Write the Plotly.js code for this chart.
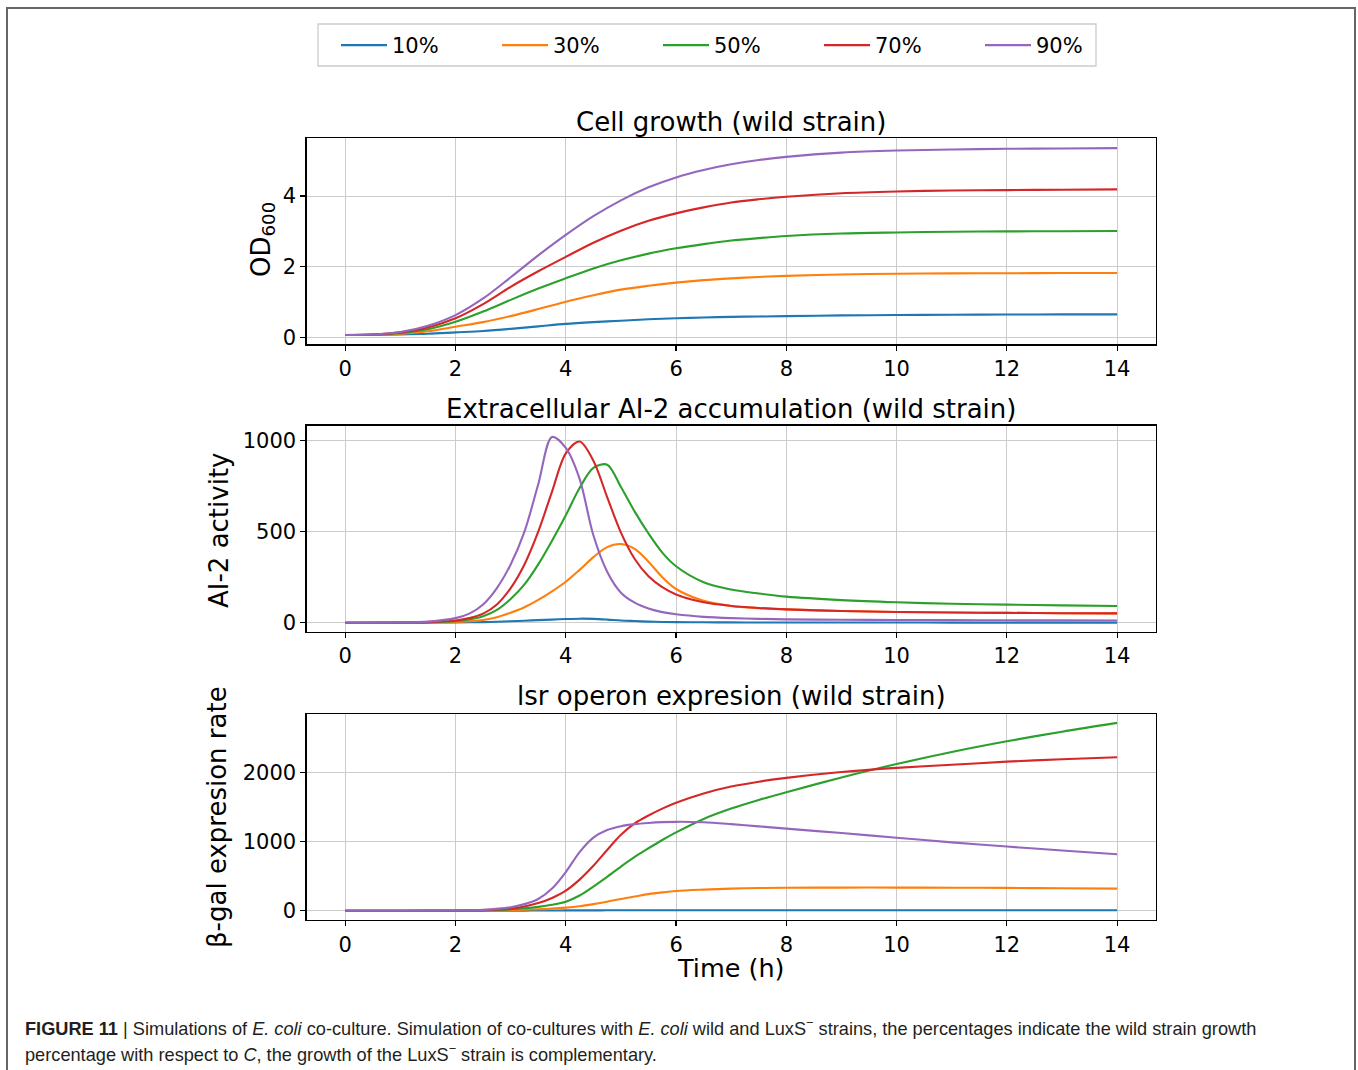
<!DOCTYPE html>
<html>
<head>
<meta charset="utf-8">
<script src="https://cdn.plot.ly/plotly-3.0.1.min.js"></script>
<style>
  html, body { margin: 0; padding: 0; background: #ffffff; }
  #chart { width: 1358px; height: 1070px; }
</style>
</head>
<body>
<div id="chart"></div>
<script>
// ---------------- DATA ----------------
const seriesNames = ["10%", "30%", "50%", "70%", "90%"];
const seriesColors = ["#1f77b4", "#ff7f0e", "#2ca02c", "#d62728", "#9467bd"];

const panelTitles = [
  "Cell growth (wild strain)",
  "Extracellular AI-2 accumulation (wild strain)",
  "lsr operon expresion (wild strain)"
];
const yTitles = ["OD<sub>600</sub>", "AI-2 activity", "β-gal expresion rate"];
const xTitle = "Time (h)";
const xTickVals = [0, 2, 4, 6, 8, 10, 12, 14];
const yTickVals1 = [0, 2, 4];
const yTickVals2 = [0, 500, 1000];
const yTickVals3 = [0, 1000, 2000];

// Panel 1: cell growth (OD600)
const tGrowth = [0, 0.5, 1, 1.5, 2, 2.5, 3, 3.5, 4, 4.5, 5, 5.5, 6, 6.5, 7, 7.5, 8, 9, 10, 11, 12, 13, 14];
const od10 = [0.066, 0.07, 0.08, 0.10, 0.14, 0.18, 0.24, 0.31, 0.38, 0.43, 0.47, 0.51, 0.54, 0.56, 0.58, 0.59, 0.60, 0.62, 0.63, 0.64, 0.645, 0.65, 0.65];
const od30 = [0.066, 0.072, 0.10, 0.17, 0.30, 0.43, 0.60, 0.80, 1.01, 1.19, 1.35, 1.46, 1.55, 1.62, 1.67, 1.71, 1.74, 1.78, 1.80, 1.81, 1.815, 1.82, 1.82];
const od50 = [0.066, 0.075, 0.12, 0.23, 0.44, 0.73, 1.06, 1.38, 1.67, 1.95, 2.18, 2.37, 2.52, 2.64, 2.74, 2.81, 2.87, 2.94, 2.97, 2.99, 3.00, 3.005, 3.01];
const od70 = [0.066, 0.08, 0.14, 0.28, 0.54, 0.94, 1.43, 1.87, 2.28, 2.68, 3.02, 3.30, 3.51, 3.68, 3.82, 3.91, 3.98, 4.08, 4.13, 4.16, 4.17, 4.18, 4.19];
const od90 = [0.066, 0.08, 0.15, 0.33, 0.63, 1.10, 1.70, 2.32, 2.90, 3.43, 3.88, 4.25, 4.53, 4.74, 4.90, 5.02, 5.11, 5.23, 5.29, 5.32, 5.34, 5.35, 5.36];

// Panel 2: extracellular AI-2 activity
const tAI2 = [0, 1, 1.5, 2, 2.25, 2.5, 2.75, 3, 3.25, 3.5, 3.75, 4, 4.25, 4.5, 4.75, 5, 5.25, 5.5, 5.75, 6, 6.5, 7, 7.5, 8, 9, 10, 11, 12, 13, 14];
const ai10 = [0, 0, 0.5, 1, 2, 3, 5, 8, 11, 14, 17, 20, 22, 21, 17, 12, 9, 6, 4, 3, 2, 1.5, 1.2, 1, 0.8, 0.7, 0.6, 0.5, 0.5, 0.5];
const ai30 = [0, 0, 1, 4, 8, 15, 30, 55, 85, 125, 172, 225, 290, 360, 415, 432, 405, 335, 250, 185, 120, 92, 80, 73, 64, 59, 56, 54, 52, 51];
const ai50 = [0, 0.3, 2, 8, 18, 35, 70, 130, 210, 320, 450, 590, 740, 850, 868, 745, 610, 490, 385, 310, 222, 182, 160, 143, 124, 112, 104, 99, 95, 92];
const ai70 = [0, 0.5, 3, 12, 25, 50, 100, 190, 320, 500, 720, 930, 995, 890, 690, 495, 350, 255, 195, 155, 112, 92, 81, 73, 64, 59, 56, 54, 52, 51];
const ai90 = [0, 1, 6, 25, 50, 100, 190, 320, 500, 760, 1020, 960, 790, 480, 280, 165, 110, 78, 58, 46, 32, 25, 21, 18, 16, 15, 14, 13, 12.5, 12];

// Panel 3: lsr operon expression (beta-gal expression rate)
const tLsr = [0, 1, 2, 2.5, 3, 3.25, 3.5, 3.75, 4, 4.25, 4.5, 4.75, 5, 5.25, 5.5, 5.75, 6, 6.5, 7, 7.5, 8, 9, 10, 11, 12, 13, 14];
const ls10 = [0, 0, 0, 0.5, 1, 1.5, 2, 3, 4, 4.5, 5, 5.5, 6, 6.3, 6.5, 6.7, 7, 7, 7, 7, 7, 7, 7, 7, 7, 7, 7];
const ls30 = [0, 0, 0, 2, 8, 13, 20, 30, 45, 65, 95, 130, 170, 205, 240, 265, 285, 305, 320, 328, 332, 335, 335, 333, 330, 325, 320];
const ls50 = [0, 0, 0, 5, 20, 35, 55, 85, 130, 220, 350, 490, 640, 780, 905, 1025, 1135, 1330, 1480, 1605, 1718, 1930, 2125, 2300, 2455, 2595, 2722];
const ls70 = [0, 0, 2, 8, 30, 60, 110, 185, 290, 450, 650, 880, 1100, 1265, 1380, 1480, 1565, 1700, 1800, 1870, 1925, 2010, 2070, 2115, 2160, 2195, 2225];
const ls90 = [0, 0, 2, 12, 50, 95, 170, 320, 560, 850, 1060, 1170, 1225, 1255, 1272, 1283, 1288, 1282, 1255, 1222, 1190, 1125, 1058, 990, 930, 872, 818];

const captionLine1 = "<b>FIGURE 11</b> | Simulations of <i>E. coli</i> co-culture. Simulation of co-cultures with <i>E. coli</i> wild and LuxS<sup>−</sup> strains, the percentages indicate the wild strain growth";
const captionLine2 = "percentage with respect to <i>C</i>, the growth of the LuxS<sup>−</sup> strain is complementary.";

// ---------------- FIGURE ----------------
const W = 1358, H = 1070;
const px = v => v / W;
const py = v => 1 - v / H;

const panels = [
  { t: tGrowth, ys: [od10, od30, od50, od70, od90], xa: "x", ya: "y" },
  { t: tAI2, ys: [ai10, ai30, ai50, ai70, ai90], xa: "x2", ya: "y2" },
  { t: tLsr, ys: [ls10, ls30, ls50, ls70, ls90], xa: "x3", ya: "y3" }
];

const traces = [];
panels.forEach((p, pi) => {
  p.ys.forEach((vals, si) => {
    traces.push({
      type: "scatter", mode: "lines",
      x: p.t, y: vals,
      xaxis: p.xa, yaxis: p.ya,
      name: seriesNames[si],
      legendgroup: seriesNames[si],
      showlegend: pi === 0,
      line: { color: seriesColors[si], width: 2.1, shape: "spline", smoothing: 0.9 },
      hoverinfo: "x+y+name"
    });
  });
});

const font = { family: "DejaVu Sans, Verdana, sans-serif", color: "#000000" };
const xDomain = [px(306.7), px(1155.7)];

function xAxis(anchor) {
  return {
    domain: xDomain, anchor: anchor, range: [-0.7, 14.7],
    tickmode: "array", tickvals: xTickVals,
    ticks: "outside", ticklen: 5, tickwidth: 1.2, tickcolor: "#000",
    showline: true, mirror: true, linecolor: "#000", linewidth: 1.3,
    showgrid: true, gridcolor: "#cccccc", gridwidth: 1,
    zeroline: false,
    tickfont: { family: font.family, size: 21, color: "#000" }
  };
}
function yAxis(anchor, dom, range, tickvals) {
  return {
    domain: dom, anchor: anchor, range: range,
    tickmode: "array", tickvals: tickvals,
    ticks: "outside", ticklen: 5, tickwidth: 1.2, tickcolor: "#000",
    showline: true, mirror: true, linecolor: "#000", linewidth: 1.3,
    showgrid: true, gridcolor: "#cccccc", gridwidth: 1,
    zeroline: false,
    tickfont: { family: font.family, size: 21, color: "#000" }
  };
}

const annotations = [];
const titleY = [122, 409, 696];
panelTitles.forEach((txt, i) => {
  annotations.push({
    text: txt, xref: "paper", yref: "paper",
    x: px(731), y: py(titleY[i]), xanchor: "center", yanchor: "middle",
    showarrow: false, font: { family: font.family, size: 26, color: "#000" }
  });
});
const yTitlePos = [[262, 240], [219, 531], [217, 817]];
yTitles.forEach((txt, i) => {
  annotations.push({
    text: txt, xref: "paper", yref: "paper",
    x: px(yTitlePos[i][0]), y: py(yTitlePos[i][1]), xanchor: "center", yanchor: "middle",
    textangle: -90, showarrow: false,
    font: { family: font.family, size: 26, color: "#000" }
  });
});
annotations.push({
  text: xTitle, xref: "paper", yref: "paper",
  x: px(731), y: py(968), xanchor: "center", yanchor: "middle",
  showarrow: false, font: { family: font.family, size: 25.5, color: "#000" }
});
annotations.push({
  text: captionLine1, xref: "paper", yref: "paper",
  x: px(23), y: py(1027), xanchor: "left", yanchor: "middle", align: "left",
  showarrow: false, font: { family: "Liberation Sans, Arial, sans-serif", size: 18.2, color: "#231f20" }
});
annotations.push({
  text: captionLine2, xref: "paper", yref: "paper",
  x: px(23), y: py(1053), xanchor: "left", yanchor: "middle", align: "left",
  showarrow: false, font: { family: "Liberation Sans, Arial, sans-serif", size: 18.2, color: "#231f20" }
});

const layout = {
  width: W, height: H,
  margin: { l: 0, r: 0, t: 0, b: 0, pad: 0 },
  paper_bgcolor: "#ffffff", plot_bgcolor: "#ffffff",
  font: font,
  showlegend: true,
  legend: {
    orientation: "h",
    x: px(336), xanchor: "left",
    y: py(25), yanchor: "top",
    bgcolor: "rgba(0,0,0,0)", borderwidth: 0,
    font: { family: font.family, size: 21, color: "#000" },
    itemwidth: 46,
    entrywidth: 100, entrywidthmode: "pixels",
    traceorder: "normal"
  },
  xaxis: xAxis("y"),
  xaxis2: xAxis("y2"),
  xaxis3: xAxis("y3"),
  yaxis: yAxis("x", [py(344.3), py(138.3)], [-0.198, 5.637], yTickVals1),
  yaxis2: yAxis("x2", [py(631.7), py(425.7)], [-49.5, 1082], yTickVals2),
  yaxis3: yAxis("x3", [py(920), py(714)], [-135, 2851], yTickVals3),
  annotations: annotations,
  shapes: [
    { type: "path", xref: "paper", yref: "paper",
      path: `M ${px(7)} ${py(1075)} L ${px(7)} ${py(8)} L ${px(1355)} ${py(8)} L ${px(1355)} ${py(1075)}`,
      line: { color: "#666666", width: 2 } },
    { type: "rect", xref: "paper", yref: "paper",
      x0: px(318), x1: px(1096), y0: py(66), y1: py(24),
      line: { color: "#cccccc", width: 1.3 }, fillcolor: "rgba(0,0,0,0)" }
  ]
};

Plotly.newPlot("chart", traces, layout, { displayModeBar: false, staticPlot: true });
</script>
</body>
</html>
